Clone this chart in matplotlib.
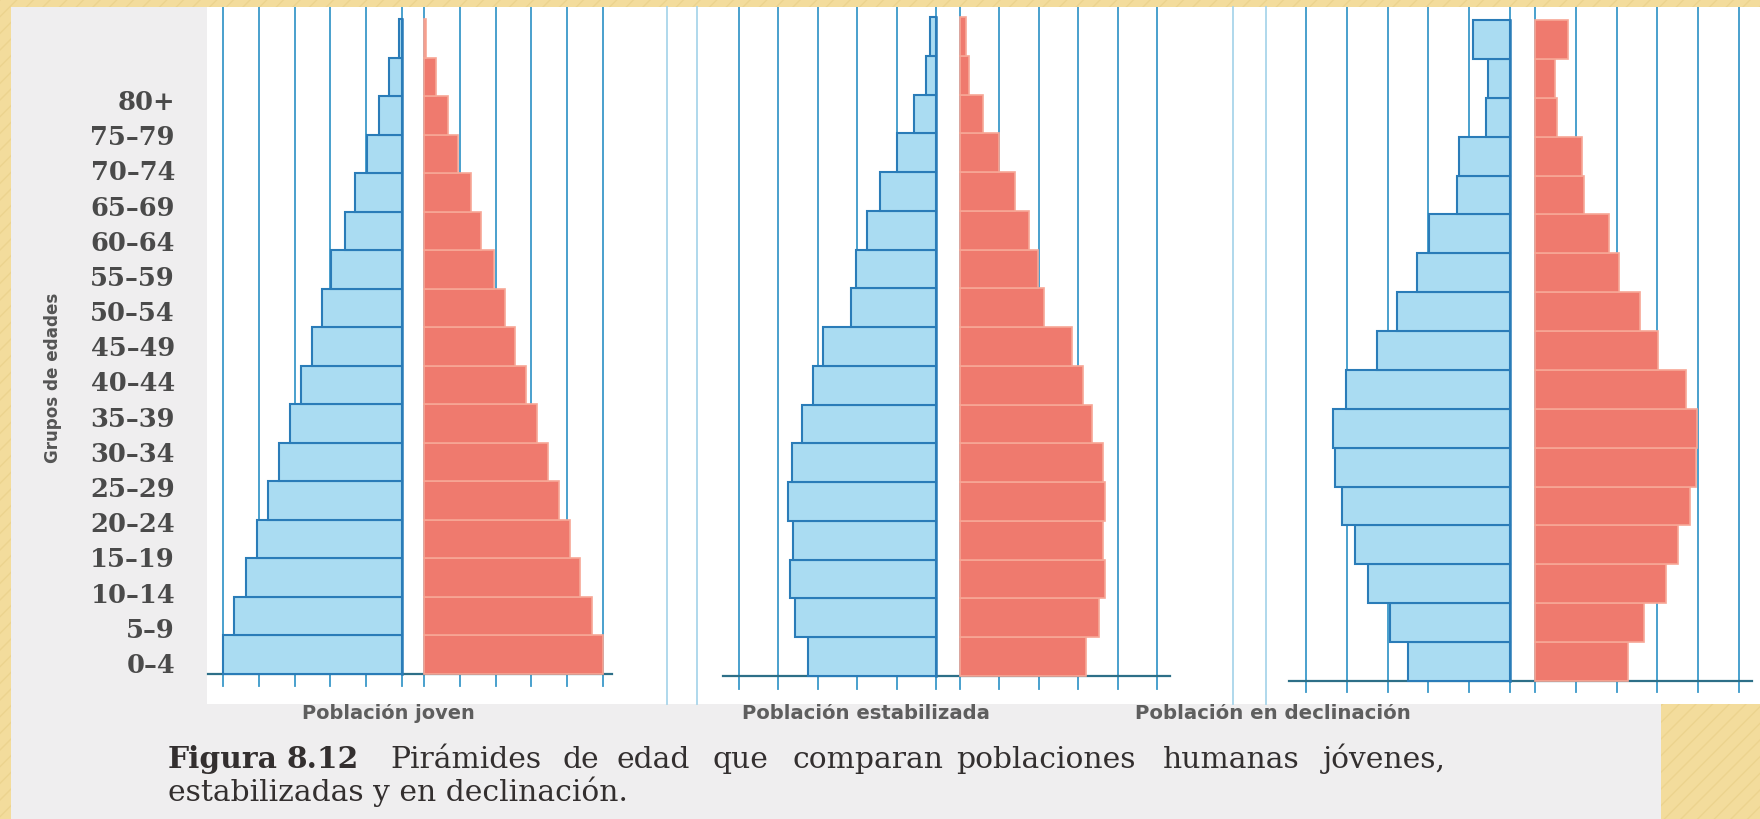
import numpy as np
import matplotlib
matplotlib.use('Agg')
import matplotlib.pyplot as plt
from matplotlib.patches import Rectangle

# grupos de edad (de abajo hacia arriba)
edades = ['0–4', '5–9', '10–14', '15–19', '20–24', '25–29', '30–34', '35–39',
          '40–44', '45–49', '50–54', '55–59', '60–64', '65–69', '70–74', '75–79', '80+']

# valores (unidades = una division de la rejilla)
hombres_joven = [5.0, 4.69, 4.36, 4.05, 3.75, 3.44, 3.13, 2.83, 2.52, 2.24, 1.97, 1.58, 1.30, 0.97, 0.64, 0.36, 0.08]
mujeres_joven = [5.0, 4.70, 4.37, 4.07, 3.77, 3.45, 3.15, 2.85, 2.55, 2.25, 1.95, 1.58, 1.30, 0.95, 0.67, 0.33, 0.06]

hombres_estab = [3.25, 3.59, 3.71, 3.63, 3.75, 3.66, 3.39, 3.12, 2.88, 2.17, 2.03, 1.75, 1.42, 0.98, 0.57, 0.25, 0.16]
mujeres_estab = [3.19, 3.54, 3.67, 3.62, 3.69, 3.62, 3.36, 3.12, 2.85, 2.14, 1.98, 1.76, 1.40, 0.98, 0.58, 0.24, 0.14]

hombres_decl = [2.50, 2.94, 3.49, 3.81, 4.12, 4.29, 4.34, 4.01, 3.25, 2.78, 2.28, 1.98, 1.31, 1.25, 0.58, 0.55, 0.90]
mujeres_decl = [2.27, 2.68, 3.21, 3.51, 3.80, 3.95, 3.97, 3.71, 3.01, 2.57, 2.07, 1.81, 1.20, 1.15, 0.54, 0.50, 0.80]

titulos = ['Población joven', 'Población estabilizada', 'Población en declinación']
pie_linea1 = ['Figura', '8.12', 'Pirámides', 'de', 'edad', 'que', 'comparan',
              'poblaciones', 'humanas', 'jóvenes,']
pie_linea2 = 'estabilizadas y en declinación.'

# geometria de cada piramide en pixeles (cero azul, cero rojo, ancho de division,
# arriba/abajo de las barras, fin de las marcas, extension del eje)
paneles = [
    dict(h=hombres_joven, m=mujeres_joven, b0=402, r0=424, u=35.8, top=20, bot=675, tick=687, ax0=208, ax1=612),
    dict(h=hombres_estab, m=mujeres_estab, b0=936, r0=960, u=39.4, top=18, bot=677, tick=690, ax0=723, ax1=1170),
    dict(h=hombres_decl, m=mujeres_decl, b0=1510, r0=1535, u=40.8, top=21, bot=682, tick=693, ax0=1289, ax1=1752),
]

W, H = 1760, 820
fig = plt.figure(figsize=(W / 100, H / 100), dpi=100)
renderer = fig.canvas.get_renderer()

# fondo: diapositiva amarilla, pagina gris, recorte blanco
bg = fig.add_axes([0, 0, 1, 1])
bg.set_xlim(0, W)
bg.set_ylim(H, 0)
bg.axis('off')
bg.add_patch(Rectangle((0, 0), W, H, facecolor='#f3dc9c', edgecolor='#ecd38e', hatch='//', lw=0, zorder=0))
bg.add_patch(Rectangle((11, 8), 1650, 812, facecolor='#efeeef', edgecolor='none', zorder=0.5))
bg.add_patch(Rectangle((207, 8), 1553, 697, facecolor='white', edgecolor='none', zorder=2))
for xl in [667, 697, 1233, 1266]:
    bg.plot([xl, xl], [8, 705], color='#a9d5ea', lw=1.3, zorder=3)

def ajustar(t, ancho, vertical=False):
    bb = t.get_window_extent(renderer)
    medida = bb.height if vertical else bb.width
    t.set_fontsize(t.get_fontsize() * ancho / medida)

# titulos de cada piramide (medio tapados por el recorte blanco)
tit_x = [(302, 475), (741, 990), (1134, 1411)]
for txt, (x0, x1) in zip(titulos, tit_x):
    t = bg.text((x0 + x1) / 2, 719, txt, ha='center', va='baseline', fontsize=14,
                color='#5e5e5e', fontweight='bold',
                family=['Liberation Sans Narrow', 'DejaVu Sans'], zorder=1)
    ajustar(t, x1 - x0)

# pie de figura
t2 = bg.text(168, 801, pie_linea2, ha='left', va='baseline', fontsize=20,
             color='#332f2f', family='DejaVu Serif', zorder=4)
ajustar(t2, 458)
tam = t2.get_fontsize()
pos_x = [168, 287, 390, 562, 617, 712, 792, 956, 1163, 1323]
for i, (w, x) in enumerate(zip(pie_linea1, pos_x)):
    bg.text(x, 768, w, ha='left', va='baseline', fontsize=tam, color='#332f2f',
            family='DejaVu Serif', fontweight='bold' if i < 2 else 'normal', zorder=4)

# etiqueta del eje y
ty = bg.text(53, 378, 'Grupos de edades', rotation=90, ha='center', va='center',
             fontsize=12, color='#555555', fontweight='bold',
             family=['Liberation Sans Narrow', 'DejaVu Sans'], zorder=4)
ajustar(ty, 170, vertical=True)

# etiquetas de edad como ticks de un eje propio
lab = fig.add_axes([175 / W, 1 - 663 / H, 0.001, (663 - 100) / H])
lab.set_ylim(0, len(edades) - 1)
lab.set_yticks(np.arange(len(edades)))
lab.set_yticklabels(edades, family='DejaVu Serif', fontweight='bold',
                    fontsize=18.5, color='#4a4a4a')
lab.tick_params(axis='y', length=0, pad=0)
lab.set_xticks([])
for s in lab.spines.values():
    s.set_visible(False)
lab.patch.set_alpha(0)

azul_fill = '#aadcf2'
azul_borde = '#2a7cb8'
rojo_fill = '#ef7a6e'
rojo_borde = '#f7a796'
rejilla = '#3a98c9'

y = np.arange(len(edades))
for p in paneles:
    u = p['u']
    c = (p['b0'] + p['r0']) / 2
    hg = (p['r0'] - p['b0']) / 2 / u
    fila = (p['bot'] - p['top']) / len(edades)
    y_lo = -0.5 + (p['bot'] - 705) / fila
    y_hi = -0.5 + (p['bot'] - 8) / fila
    ax = fig.add_axes([(c - 7 * u) / W, 1 - 705 / H, 14 * u / W, (705 - 8) / H])
    ax.set_xlim(-7, 7)
    ax.set_ylim(y_lo, y_hi)
    ax.axis('off')
    ax.patch.set_alpha(0)

    y_tick = -0.5 - (p['tick'] - p['bot']) / fila
    for k in range(6):
        for sgn in (-1, 1):
            ax.plot([sgn * (hg + k)] * 2, [y_tick, y_hi], color=rejilla, lw=1.3, zorder=1)
    ax.plot([(p['ax0'] - c) / u, (p['ax1'] - c) / u], [-0.5, -0.5],
            color='#2d6f88', lw=1.6, zorder=1)

    ax.barh(y, -np.array(p['h']), left=-hg, height=1.0, color=azul_fill,
            edgecolor=azul_borde, lw=1.5, zorder=2)
    ax.barh(y, p['m'], left=hg, height=1.0, color=rojo_fill,
            edgecolor=rojo_borde, lw=1.2, zorder=2)
    ax.plot([-hg, -hg], [-0.5, len(edades) - 0.5], color=azul_borde, lw=1.8, zorder=3)

fig.savefig('out.png', dpi=100)
